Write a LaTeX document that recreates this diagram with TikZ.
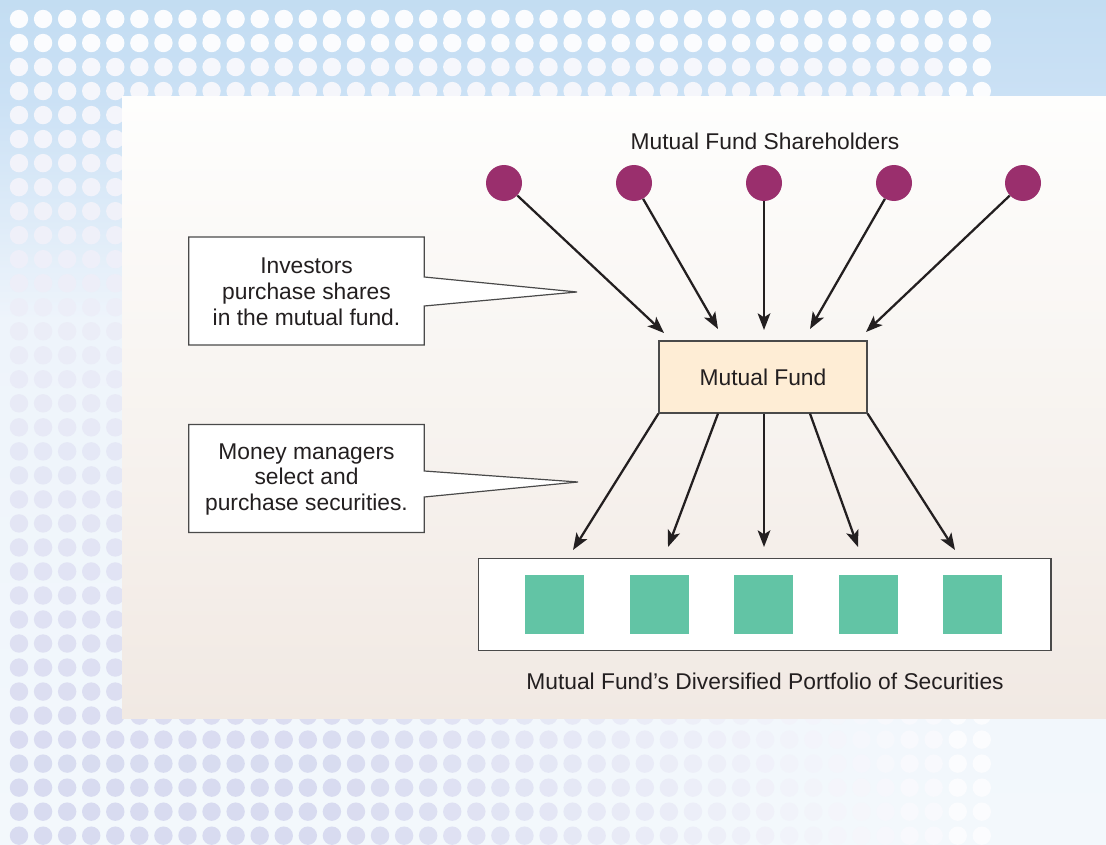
\documentclass[tikz,border=0pt]{standalone}
\usepackage{fontspec}
\setmainfont{Liberation Sans}
\usetikzlibrary{arrows.meta,calc}
\pgfdeclarelayer{back}
\pgfdeclarelayer{shapes}
\pgfsetlayers{back,shapes,main}

\definecolor{skytop}{HTML}{C3DDF2}
\definecolor{skymid}{HTML}{CBE1F5}
\definecolor{skylow}{HTML}{EEF4FB}
\definecolor{skybot}{HTML}{F3F8FC}
\definecolor{lav}{HTML}{D8DBF0}
\definecolor{dotwhite}{HTML}{FBFCFE}
\definecolor{paneltop}{HTML}{FEFEFD}
\definecolor{panelbot}{HTML}{F1E9E3}
\definecolor{plum}{HTML}{9A2F6D}
\definecolor{fundfill}{HTML}{FEEDD5}
\definecolor{mint}{HTML}{62C4A5}
\definecolor{ink}{HTML}{231F20}
\definecolor{edge}{HTML}{4A4A4A}

\begin{document}
\begin{tikzpicture}[x=0.75pt,y=-0.75pt,
  every node/.style={font=\fontsize{17.1}{19.3}\selectfont, text=ink},
  holder/.style={circle, fill=plum, minimum size=27pt, inner sep=0pt},
  fundbox/.style={rectangle, fill=fundfill, draw=edge, line width=0.9pt,
    minimum width=156pt, minimum height=54pt},
  portbox/.style={rectangle, fill=white, draw=edge, line width=1pt,
    minimum width=429.5pt, minimum height=69.3pt},
  security/.style={rectangle, fill=mint, minimum size=44.25pt, inner sep=0pt},
  calloutbox/.style={rectangle, minimum width=176.25pt, minimum height=80.5pt,
    align=center, inner sep=0pt},
  calloutline/.style={fill=white, draw=edge, line width=0.9pt, line join=miter},
  flow/.style={draw=ink, line width=1.7pt,
    -{Stealth[length=12.5pt,width=9.5pt,inset=3pt]}},
  caption/.style={inner sep=0pt}
]
\useasboundingbox (0,0) rectangle (1106,845);

% ---- backdrop: sky gradient, dot screen, and the light panel ----
\begin{pgfonlayer}{back}
  \shade[top color=skytop, bottom color=skymid] (0,0) rectangle (1106,100);
  \shade[top color=skymid, bottom color=skylow] (0,99.5) rectangle (1106,320);
  \shade[top color=skylow, bottom color=skybot] (0,319.5) rectangle (1106,845);
  \foreach \i in {0,...,40}{
    \foreach \j in {0,...,34}{
      \pgfmathsetmacro{\dx}{19+24.07*\i}
      \pgfmathsetmacro{\dy}{19+24.02*\j}
      \pgfmathsetmacro{\base}{(\j<2)||(\i>38) ? 0 : min(100,15+(\dy-67)*0.12)}
      \pgfmathsetmacro{\hf}{\j>28 ? max(0.1,min(1,1-(\dx-330)*0.9/580)) : 1}
      \pgfmathsetmacro{\p}{\base*\hf}
      \fill[lav!\p!dotwhite] (\dx,\dy) circle[radius=9.2];
    }
  }
  \shade[top color=paneltop, bottom color=panelbot] (122,97) rectangle (1106,718);
\end{pgfonlayer}

% ---- shareholders ----
\node[caption] (title) at (765,141.5) {Mutual Fund Shareholders};
\node[holder] (s1) at (504,183) {};
\node[holder] (s2) at (634,183) {};
\node[holder] (s3) at (764,183) {};
\node[holder] (s4) at (894,183) {};
\node[holder] (s5) at (1023,183) {};

% ---- the fund ----
\node[fundbox] (mf) at (763,377) {Mutual Fund};

\coordinate (in1) at (664,333);
\coordinate (in2) at (718,329);
\coordinate (in3) at (764,330);
\coordinate (in4) at (810,329);
\coordinate (in5) at (866,332);
\draw[flow] (s1) -- (in1);
\draw[flow] (s2) -- (in2);
\draw[flow] (s3) -- (in3);
\draw[flow] (s4) -- (in4);
\draw[flow] (s5) -- (in5);

% ---- portfolio ----
\node[portbox] (pf) at (764.7,604.5) {};
\node[security] (q1) at (554.5,604.5) {};
\node[security] (q2) at (659,604.5) {};
\node[security] (q3) at (763.5,604.5) {};
\node[security] (q4) at (868,604.5) {};
\node[security] (q5) at (972.5,604.5) {};
\node[caption] (pcap) at (765,681) {Mutual Fund’s Diversified Portfolio of Securities};

\coordinate (out1) at (573,550);
\coordinate (out2) at (668,547);
\coordinate (out3) at (764,547);
\coordinate (out4) at (858,547);
\coordinate (out5) at (955,550);
\draw[flow] (mf.south west) -- (out1);
\draw[flow] ($(mf.south)+(-45,0)$) -- (out2);
\draw[flow] ($(mf.south)+(1,0)$) -- (out3);
\draw[flow] ($(mf.south)+(47,0)$) -- (out4);
\draw[flow] (mf.south east) -- (out5);

% ---- callouts ----
\node[calloutbox] (c1) at (306.5,292) {Investors\\purchase shares\\in the mutual fund.};
\coordinate (tip1) at (577,292);
\node[calloutbox] (c2) at (306.5,479.5) {Money managers\\select and\\purchase securities.};
\coordinate (tip2) at (578,482);

\begin{pgfonlayer}{shapes}
  \draw[calloutline] ($(c1.north west)+(0,-1)$) -- ($(c1.north east)+(0,-1)$) -- ($(c1.east)+(0,-15)$)
    -- (tip1) -- ($(c1.east)+(0,14)$) -- ($(c1.south east)+(0,-1)$) -- ($(c1.south west)+(0,-1)$) -- cycle;
  \draw[calloutline] ($(c2.north west)+(0,-1)$) -- ($(c2.north east)+(0,-1)$) -- ($(c2.east)+(0,-8.5)$)
    -- (tip2) -- ($(c2.east)+(0,17.5)$) -- ($(c2.south east)+(0,-1)$) -- ($(c2.south west)+(0,-1)$) -- cycle;
\end{pgfonlayer}
\end{tikzpicture}
\end{document}
